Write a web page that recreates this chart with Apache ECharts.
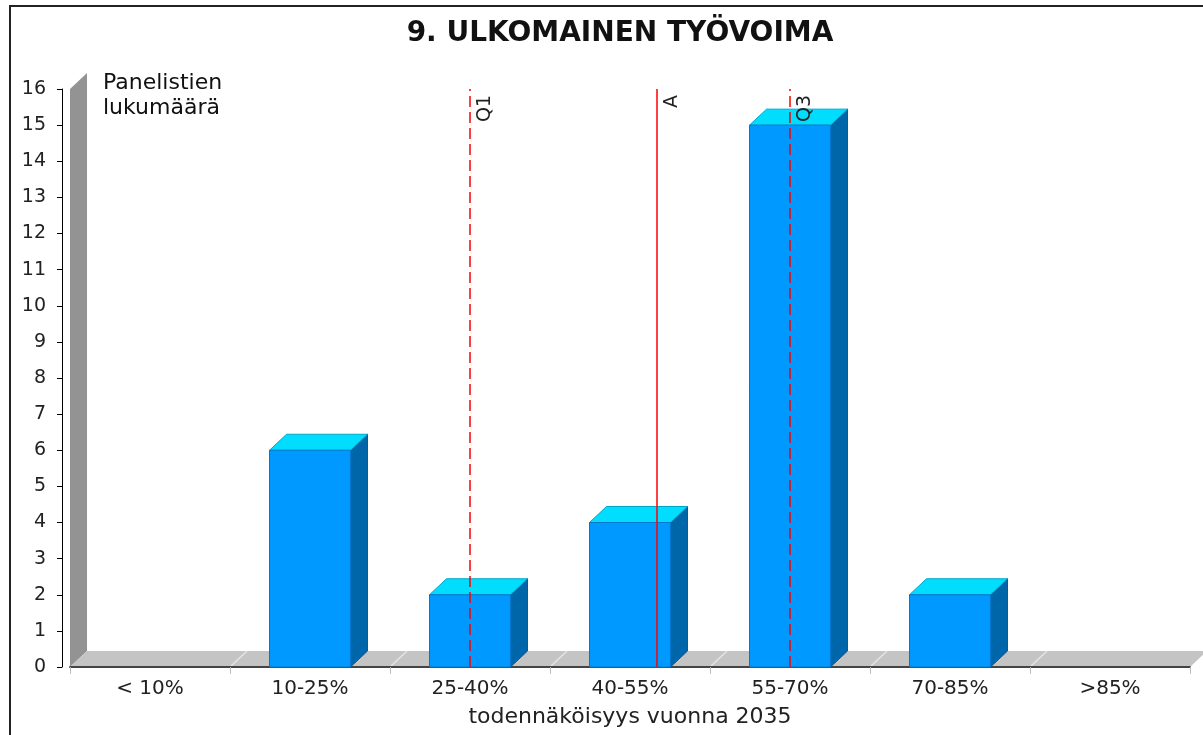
<!DOCTYPE html>
<html>
<head>
<meta charset="utf-8">
<script src="https://cdn.jsdelivr.net/npm/echarts@6/dist/echarts.min.js"></script>
<style>
  html, body { margin: 0; padding: 0; background: #fff; }
  #chart { width: 1203px; height: 735px; }
</style>
</head>
<body>
<div id="chart"></div>
<script>
const categories = ['< 10%', '10-25%', '25-40%', '40-55%', '55-70%', '70-85%', '>85%']
const counts = [0, 6, 2, 4, 15, 2, 0]
const markerNames = ['Q1', 'A', 'Q3']
const markerValues = [32.5, 50, 62.5]   // % on the hidden linear axis

const FONT = 'DejaVu Sans'
const DX = 17, DY = 16
const C = {
  front: '#0099ff', top: '#00ddff', side: '#0066aa', edge: '#0077cc',
  wall: '#939393', floor: '#c4c4c4', floorLine: '#e4e4e4', text: '#222'
}

function renderBar(params, api) {
  const v = api.value(1)
  if (!v) return
  const top = api.coord([api.value(0), v])
  const base = api.coord([api.value(0), 0])
  const w = api.size([1, 0])[0] * 0.506
  const x1 = top[0] - w / 2, x2 = top[0] + w / 2
  const yt = top[1], yb = base[1]
  return {
    type: 'group',
    children: [
      { type: 'polygon', shape: { points: [[x2, yt], [x2 + DX, yt - DY], [x2 + DX, yb - DY], [x2, yb]] },
        style: { fill: C.side, stroke: '#005a99', lineWidth: 1 } },
      { type: 'polygon', shape: { points: [[x1, yt], [x1 + DX, yt - DY], [x2 + DX, yt - DY], [x2, yt]] },
        style: { fill: C.top, stroke: '#00a8c8', lineWidth: 1 } },
      { type: 'rect', shape: { x: x1, y: yt, width: w, height: yb - yt },
        style: { fill: C.front, stroke: C.edge, lineWidth: 1 } },
    ]
  }
}

function renderBackdrop(params, api) {
  const cs = params.coordSys
  const x0 = cs.x, x1 = cs.x + cs.width, yt = cs.y, yb = cs.y + cs.height
  const n = categories.length
  const cw = cs.width / n
  const lines = []
  for (let k = 1; k < n; k++) {
    const x = x0 + k * cw
    lines.push({ type: 'line', shape: { x1: x, y1: yb, x2: x + DX, y2: yb - DY },
      style: { stroke: C.floorLine, lineWidth: 1.5 } })
  }
  return {
    type: 'group',
    children: [
      { type: 'polygon', shape: { points: [[x0, yt], [x0 + DX, yt - DY], [x0 + DX, yb - DY], [x0, yb]] },
        style: { fill: C.wall } },
      { type: 'polygon', shape: { points: [[x0, yb], [x0 + DX, yb - DY], [x1 + DX, yb - DY], [x1, yb]] },
        style: { fill: C.floor } },
      ...lines
    ]
  }
}

const chart = echarts.init(document.getElementById('chart'), null, { renderer: 'canvas' })

chart.setOption({
  animation: false,
  backgroundColor: '#fff',
  title: {
    text: '9. ULKOMAINEN TYÖVOIMA',
    left: 615, top: 15, textAlign: 'center',
    textStyle: { fontFamily: FONT, fontSize: 28, fontWeight: 'bold', color: '#111' }
  },
  graphic: [
    { type: 'rect', shape: { x: 10, y: 6, width: 1300, height: 800 },
      style: { fill: 'none', stroke: '#222', lineWidth: 2 }, z: 100 },
    { type: 'text', left: 103, top: 71,
      style: { text: 'Panelistien\nlukumäärä', font: '22px "DejaVu Sans"', fill: '#111', lineHeight: 25 } }
  ],
  grid: { left: 70, right: 13, top: 89, bottom: 68, containLabel: false },
  xAxis: [{
    type: 'category',
    data: categories,
    z: 1,
    name: 'todennäköisyys vuonna 2035',
    nameLocation: 'middle',
    nameGap: 39,
    nameTextStyle: { fontFamily: FONT, fontSize: 22, color: C.text },
    axisLine: { lineStyle: { color: '#444', width: 2 } },
    axisTick: { show: true, length: 7, lineStyle: { color: '#bbb' } },
    axisLabel: { fontFamily: FONT, fontSize: 20, color: C.text, margin: 12 },
    splitLine: { show: false }
  }, {
    type: 'value', min: -5, max: 100, show: false
  }],
  yAxis: {
    type: 'value',
    min: 0, max: 16, interval: 1,
    offset: 8,
    z: 1,
    axisLine: { show: true, onZero: false, lineStyle: { color: '#000', width: 1 } },
    axisTick: { show: true, length: 5, lineStyle: { color: '#000' } },
    axisLabel: { fontFamily: FONT, fontSize: 19, color: C.text, margin: 16 },
    splitLine: { show: false }
  },
  series: [{
    type: 'custom',
    z: 0,
    silent: true,
    clip: false,
    renderItem: renderBackdrop,
    data: [[0, 0]]
  }, {
    type: 'custom',
    z: 2,
    clip: false,
    renderItem: renderBar,
    encode: { x: 0, y: 1 },
    data: categories.map((c, i) => [i, counts[i]])
  }, {
    type: 'line',
    xAxisIndex: 1,
    z: 5,
    symbol: 'none',
    lineStyle: { opacity: 0 },
    data: [[markerValues[0], 0]],
    markLine: {
      silent: true,
      symbol: 'none',
      lineStyle: { color: '#ff0000', width: 1.5 },
      label: {
        show: true, formatter: '{b}', position: 'insideEndBottom', distance: 6,
        fontFamily: FONT, fontSize: 19, color: C.text
      },
      data: markerNames.map((n, i) => ({
        name: n,
        xAxis: markerValues[i],
        lineStyle: { type: n === 'A' ? 'solid' : [11, 5] }
      }))
    }
  }]
})
</script>
</body>
</html>
